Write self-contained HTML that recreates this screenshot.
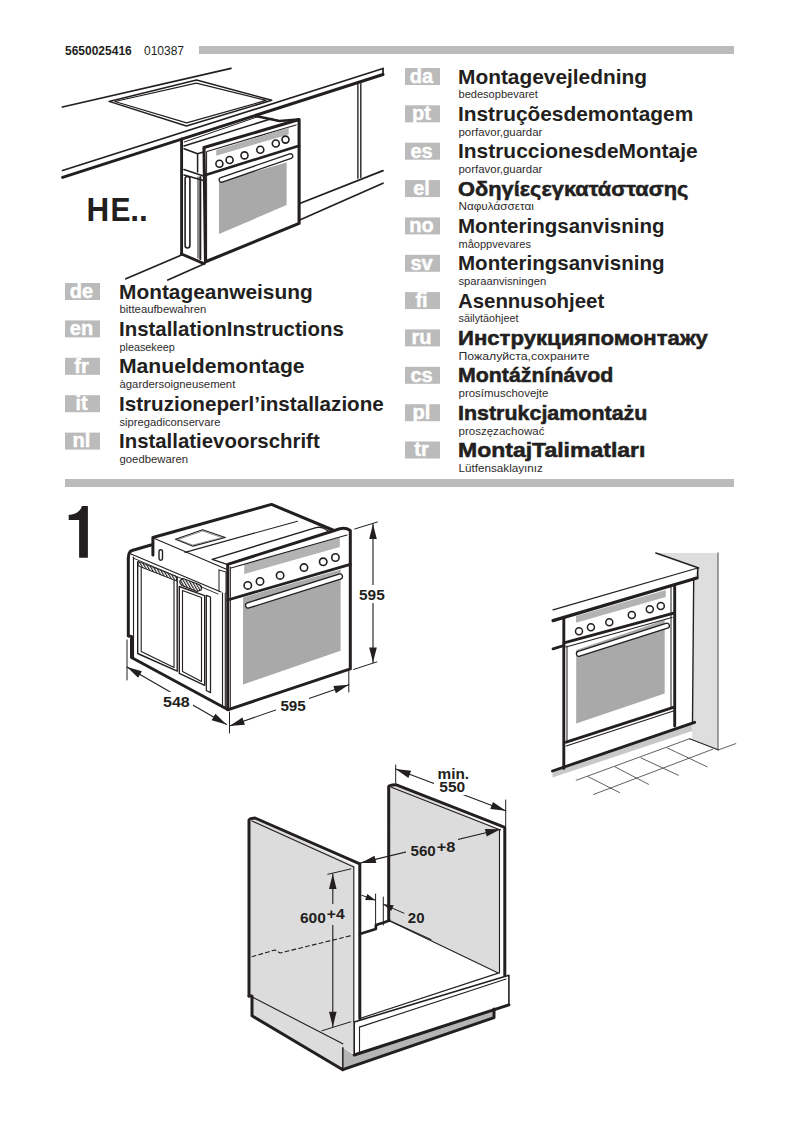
<!DOCTYPE html>
<html><head><meta charset="utf-8">
<style>
html,body{margin:0;padding:0;background:#fff;width:802px;height:1134px;overflow:hidden}
svg{position:absolute;left:0;top:0;display:block}
text{font-family:"Liberation Sans",sans-serif;fill:#231f20}
.t{font-size:21px;font-weight:bold}
.s{font-size:11.6px;fill:#2e2b2c}
.lb{font-size:20px;font-weight:bold;fill:#fff;stroke:#fff;stroke-width:0.45px;text-anchor:middle}
.d{font-size:15.3px;font-weight:bold}
</style></head><body>
<svg width="802" height="1134" viewBox="0 0 802 1134">
<!-- header -->
<text x="65" y="54.5" style="font-size:12px;font-weight:bold">5650025416</text>
<text x="144" y="54.5" style="font-size:12px">010387</text>
<rect x="199" y="46" width="535" height="8" fill="#bbbbbb"/>
<rect x="65" y="479" width="669" height="8" fill="#bbbbbb"/>
<text x="86.4" y="220.7" style="font-size:34px;font-weight:bold" textLength="22.7" lengthAdjust="spacingAndGlyphs">H</text>
<text x="110.6" y="220.7" style="font-size:34px;font-weight:bold" textLength="20.0" lengthAdjust="spacingAndGlyphs">E</text>
<text x="130.2" y="220.7" style="font-size:34px;font-weight:bold" textLength="17.6" lengthAdjust="spacingAndGlyphs">..</text>
<path d="M81.9,506 L87.9,506 L87.9,557.7 L79.1,557.7 L79.1,520.1 L68.7,520.1 L68.7,514.8 C75,514.8 80.5,511.5 81.9,506 Z" fill="#231f20"/>
<rect x="65" y="283.0" width="35" height="17" fill="#bbbbbb"/>
<text class="lb" x="81.5" y="297.8">de</text>
<text class="t" x="119" y="298.5" textLength="193.7" lengthAdjust="spacingAndGlyphs">Montageanweisung</text>
<text class="s" x="119.5" y="313.3" textLength="86.8" lengthAdjust="spacingAndGlyphs">bitteaufbewahren</text>
<rect x="65" y="320.4" width="35" height="17" fill="#bbbbbb"/>
<text class="lb" x="81.5" y="335.2">en</text>
<text class="t" x="119" y="335.9" textLength="224.8" lengthAdjust="spacingAndGlyphs">InstallationInstructions</text>
<text class="s" x="119.5" y="350.7" textLength="55.2" lengthAdjust="spacingAndGlyphs">pleasekeep</text>
<rect x="65" y="357.8" width="35" height="17" fill="#bbbbbb"/>
<text class="lb" x="81.5" y="372.6">fr</text>
<text class="t" x="119" y="373.3" textLength="185.6" lengthAdjust="spacingAndGlyphs">Manueldemontage</text>
<text class="s" x="119.5" y="388.1" textLength="115.8" lengthAdjust="spacingAndGlyphs">àgardersoigneusement</text>
<rect x="65" y="395.2" width="35" height="17" fill="#bbbbbb"/>
<text class="lb" x="81.5" y="410.0">it</text>
<text class="t" x="119" y="410.7" textLength="264.8" lengthAdjust="spacingAndGlyphs">Istruzioneperl’installazione</text>
<text class="s" x="119.5" y="425.5" textLength="100.9" lengthAdjust="spacingAndGlyphs">sipregadiconservare</text>
<rect x="65" y="432.6" width="35" height="17" fill="#bbbbbb"/>
<text class="lb" x="81.5" y="447.4">nl</text>
<text class="t" x="119" y="448.1" textLength="200.7" lengthAdjust="spacingAndGlyphs">Installatievoorschrift</text>
<text class="s" x="119.5" y="462.9" textLength="68.6" lengthAdjust="spacingAndGlyphs">goedbewaren</text>
<rect x="405" y="68.0" width="35" height="17" fill="#bbbbbb"/>
<text class="lb" x="421.5" y="82.8">da</text>
<text class="t" x="458" y="83.5" textLength="189.0" lengthAdjust="spacingAndGlyphs">Montagevejledning</text>
<text class="s" x="458.5" y="98.3" textLength="79.3" lengthAdjust="spacingAndGlyphs">bedesopbevaret</text>
<rect x="405" y="105.3" width="35" height="17" fill="#bbbbbb"/>
<text class="lb" x="421.5" y="120.2">pt</text>
<text class="t" x="458" y="120.8" textLength="235.2" lengthAdjust="spacingAndGlyphs">Instruçõesdemontagem</text>
<text class="s" x="458.5" y="135.6" textLength="83.9" lengthAdjust="spacingAndGlyphs">porfavor,guardar</text>
<rect x="405" y="142.7" width="35" height="17" fill="#bbbbbb"/>
<text class="lb" x="421.5" y="157.5">es</text>
<text class="t" x="458" y="158.2" textLength="239.6" lengthAdjust="spacingAndGlyphs">InstruccionesdeMontaje</text>
<text class="s" x="458.5" y="173.0" textLength="83.9" lengthAdjust="spacingAndGlyphs">porfavor,guardar</text>
<rect x="405" y="180.1" width="35" height="17" fill="#bbbbbb"/>
<text class="lb" x="421.5" y="194.9">el</text>
<text class="t" x="458" y="195.6" textLength="230.3" lengthAdjust="spacingAndGlyphs" style="stroke:#231f20;stroke-width:0.55px">Οδηγίεςεγκατάστασης</text>
<text class="s" x="458.5" y="210.4" textLength="75.3" lengthAdjust="spacingAndGlyphs">Ναφυλάσσεται</text>
<rect x="405" y="217.4" width="35" height="17" fill="#bbbbbb"/>
<text class="lb" x="421.5" y="232.2">no</text>
<text class="t" x="458" y="232.9" textLength="206.5" lengthAdjust="spacingAndGlyphs">Monteringsanvisning</text>
<text class="s" x="458.5" y="247.7" textLength="72.4" lengthAdjust="spacingAndGlyphs">måoppvevares</text>
<rect x="405" y="254.8" width="35" height="17" fill="#bbbbbb"/>
<text class="lb" x="421.5" y="269.5">sv</text>
<text class="t" x="458" y="270.2" textLength="206.5" lengthAdjust="spacingAndGlyphs">Monteringsanvisning</text>
<text class="s" x="458.5" y="285.0" textLength="87.6" lengthAdjust="spacingAndGlyphs">sparaanvisningen</text>
<rect x="405" y="292.1" width="35" height="17" fill="#bbbbbb"/>
<text class="lb" x="421.5" y="306.9">fi</text>
<text class="t" x="458" y="307.6" textLength="146.2" lengthAdjust="spacingAndGlyphs">Asennusohjeet</text>
<text class="s" x="458.5" y="322.4" textLength="59.9" lengthAdjust="spacingAndGlyphs">säilytäohjeet</text>
<rect x="405" y="329.4" width="35" height="17" fill="#bbbbbb"/>
<text class="lb" x="421.5" y="344.2">ru</text>
<text class="t" x="458" y="344.9" textLength="249.9" lengthAdjust="spacingAndGlyphs" style="stroke:#231f20;stroke-width:0.55px">Инструкцияпомонтажу</text>
<text class="s" x="458.5" y="359.7" textLength="131.0" lengthAdjust="spacingAndGlyphs">Пожалуйста,сохраните</text>
<rect x="405" y="366.8" width="35" height="17" fill="#bbbbbb"/>
<text class="lb" x="421.5" y="381.6">cs</text>
<text class="t" x="458" y="382.3" textLength="155.3" lengthAdjust="spacingAndGlyphs" style="stroke:#231f20;stroke-width:0.55px">Montážnínávod</text>
<text class="s" x="458.5" y="397.1" textLength="89.9" lengthAdjust="spacingAndGlyphs">prosímuschovejte</text>
<rect x="405" y="404.2" width="35" height="17" fill="#bbbbbb"/>
<text class="lb" x="421.5" y="419.0">pl</text>
<text class="t" x="458" y="419.7" textLength="189.4" lengthAdjust="spacingAndGlyphs" style="stroke:#231f20;stroke-width:0.55px">Instrukcjamontażu</text>
<text class="s" x="458.5" y="434.5" textLength="85.9" lengthAdjust="spacingAndGlyphs">proszęzachować</text>
<rect x="405" y="441.5" width="35" height="17" fill="#bbbbbb"/>
<text class="lb" x="421.5" y="456.3">tr</text>
<text class="t" x="458" y="457.0" textLength="187.4" lengthAdjust="spacingAndGlyphs" style="stroke:#231f20;stroke-width:0.55px">MontajTalimatları</text>
<text class="s" x="458.5" y="471.8" textLength="84.4" lengthAdjust="spacingAndGlyphs">Lütfensaklayınız</text><!-- drawing 1: kitchen -->
<g fill="none" stroke="#231f20" stroke-linecap="round" stroke-linejoin="round">
  <!-- countertop -->
  <line x1="62.4" y1="107" x2="231" y2="68.3" stroke-width="1.75"/>
  <line x1="62.6" y1="170.5" x2="383" y2="68.5" stroke-width="1.75"/>
  <line x1="62.6" y1="177.4" x2="383" y2="74.5" stroke-width="3.00"/>
  <line x1="383" y1="68.5" x2="383" y2="75" stroke-width="1.75"/>
  <!-- hob -->
  <path d="M109,101.4 L196.5,80 L271.7,100.3 L186.4,126 Z" stroke-width="1.5"/>
  <path d="M114.8,101.5 L196.3,83.2 L266.2,100.4 L186.6,122.9 Z" stroke-width="1.2"/>
  <!-- cabinet lines -->
  <line x1="181.6" y1="139" x2="181.6" y2="254.5" stroke-width="2.9"/>
  <line x1="357.9" y1="84.5" x2="357.9" y2="178.3" stroke-width="1.38"/>
  <line x1="360.8" y1="83.6" x2="360.8" y2="177.4" stroke-width="1.38"/>
  <line x1="299.7" y1="203.5" x2="383" y2="170.6" stroke-width="1.75"/>
  <line x1="299.7" y1="220" x2="383" y2="183.2" stroke-width="1.75"/>
  <line x1="125.9" y1="278.8" x2="182.2" y2="254.8" stroke-width="1.75"/>
  <line x1="167.8" y1="280" x2="205" y2="263.5" stroke-width="1.75"/>
  <!-- oven body side -->
  <line x1="181.5" y1="254" x2="204" y2="263.6" stroke-width="2.8"/>
  <path d="M184,148.7 L197.6,153.8 L203.5,152 M184,146 L272,118.5 M197.6,153.8 L197.6,172 M184,169.5 L203.5,176 M184,175 L203.5,180.5" stroke-width="1.5"/>
  <line x1="198" y1="177" x2="198" y2="258" stroke-width="1.0"/>
  <line x1="200.3" y1="177" x2="200.3" y2="259" stroke-width="2.0"/>
  <line x1="206.6" y1="152" x2="206.6" y2="261" stroke-width="1.0"/>
  <rect x="185.1" y="176.5" width="4.8" height="71.5" rx="2.4" stroke-width="1.6"/>
  <!-- oven front -->
  <path d="M255.8,116 L279.4,121 L298,119.5" stroke-width="2.4"/>
  <line x1="184.3" y1="142" x2="257.5" y2="116.8" stroke-width="1.0"/>
  <path d="M204,147.5 L299.1,119.6 L299.1,223.4 L205.5,261.8 Z" stroke-width="3.1"/>
  <line x1="204" y1="175.4" x2="299.1" y2="145.8" stroke-width="2.60"/>
  <line x1="207" y1="151.5" x2="296" y2="125" stroke-width="1.25"/>
</g>
<polygon points="216.2,150.1 288.7,127.5 288.7,134.4 216.2,155.7" fill="#b3b3b3"/>
<polygon points="219,182 286.6,162.4 286.6,205.1 219,233.9" fill="#a9a9a9"/>
<g fill="#fff" stroke="#231f20" stroke-width="1.62">
  <circle cx="219.4" cy="163.8" r="3.5"/><circle cx="229.6" cy="160" r="3.5"/><circle cx="244.5" cy="155.4" r="3.5"/>
  <circle cx="260.3" cy="149.8" r="3.5"/><circle cx="275.8" cy="143.5" r="3.5"/><circle cx="285.5" cy="139.6" r="3.5"/>
</g>
<line x1="221.5" y1="179.8" x2="290.4" y2="156.2" stroke="#231f20" stroke-width="6" stroke-linecap="round"/>
<line x1="221.5" y1="179.8" x2="290.4" y2="156.2" stroke="#fff" stroke-width="3.4" stroke-linecap="round"/>
<defs><pattern id="hatch" width="2.4" height="2.4" patternUnits="userSpaceOnUse" patternTransform="rotate(-30)"><rect width="2.4" height="2.4" fill="#fff"/><rect width="1.1" height="2.4" fill="#231f20"/></pattern></defs>
<!-- drawing 2: oven dims -->
<polygon points="243,597.5 340.6,569.5 340.6,650.8 243,684.5" fill="#a9a9a9"/>
<polygon points="244.2,564.5 339.8,537.5 339.8,547 244.2,574" fill="#b3b3b3"/>
<g fill="none" stroke="#231f20" stroke-linecap="round" stroke-linejoin="round">
  <!-- top -->
  <path d="M152.9,555 L152.9,537.5 L271.5,504.4 L334,530.5" stroke-width="3.00"/>
  <path d="M128.3,558 Q128.5,551.5 132,550.5 L151,545" stroke-width="3.00"/>
  <path d="M128.3,558 L128.3,636 L131.5,636.5 L131.5,657.5 L227.7,709.5" stroke-width="3.00"/>
  <line x1="154.5" y1="538.4" x2="226.5" y2="569.3" stroke-width="1.12"/>
  <line x1="185" y1="552.4" x2="297.4" y2="521.2" stroke-width="1.12"/>
  <path d="M212.2,559.3 L316,527.7 Q320,526.5 324,528.5 L331,532.5 M212.2,559.3 L227,564.4" stroke-width="1.38"/>
  <path d="M175.5,539.3 L202.6,529.7 L225.3,537.5 L193,546.2 Z" stroke-width="1.2"/>
  <path d="M178.5,539.4 L202.6,531 L222,537.6 L193.2,545 Z" stroke-width="0.7" stroke="#666"/>
  <rect x="159" y="549.7" width="3.5" height="10.5" rx="1.7" stroke-width="1.38"/>
  <line x1="131" y1="554" x2="221" y2="592" stroke-width="1.12"/>
  <line x1="133" y1="558" x2="218" y2="594" stroke-width="0.9"/>
    <!-- side body -->
  <line x1="222.5" y1="593" x2="222.5" y2="705" stroke-width="1.12"/>
  <line x1="225.3" y1="593" x2="225.3" y2="707" stroke-width="1.12"/>
  <path d="M219,570 L226,572 L226,593 M219,570 L219,591" stroke-width="1.00"/>
  <!-- windows -->
  <path d="M137.7,561.9 L177.2,577.4 L177.2,671.2 L137.7,653.5 Z" stroke-width="1.38"/>
  <path d="M141.2,566.8 L174,579.5 L174,667.5 L141.2,651.5 Z" stroke-width="1.12"/>
  <path d="M133.5,557 L133.5,658" stroke-width="1.12"/>
  <path d="M179.3,586.5 L204.7,595.7 L204.7,685.3 L179.3,673.3 Z" stroke-width="1.38"/>
  <path d="M182.5,590.5 L201.5,597.5 L201.5,681.5 L182.5,671.5 Z" stroke-width="1.12"/>
  <path d="M206.3,595.3 L210.5,597 L210.5,692.6 L206.3,690.5 Z" stroke-width="1.25"/>
  <path d="M138.5,561.5 L176.5,576.5 L176.5,581 L138.5,566 Z" fill="url(#hatch)" stroke-width="0.9"/>
  <path d="M183,578.5 L199,584.5 Q203,586.5 201,590 L197,591.5 L182,585.5 Q179,583 180,580.5 Z" fill="url(#hatch)" stroke-width="1.1"/>
  <!-- front panel -->
  <path d="M227.7,564.4 L336,530 Q344.5,526.5 350.3,530.5 L350.3,668.9 L227.7,709.8 Z" stroke-width="3.00"/>
  <line x1="230.3" y1="567" x2="230.3" y2="708" stroke-width="1.12"/>
  <line x1="231" y1="568" x2="347" y2="535" stroke-width="1.12"/>
  <line x1="227.7" y1="600" x2="350.3" y2="564.4" stroke-width="2.80"/>
  <!-- dims -->
  <path d="M127,640 L127,680 M229.5,712 L229.5,733 M348.8,671 L348.8,692 M354.7,529 L377.4,522 M353.5,669.5 L376.8,661.9" stroke-width="1.00"/>
  <path d="M127,667 L226.5,724.5 M229.5,726 L348.8,684.7 M373,524 L373,662.5" stroke-width="1.12"/>
</g>
<g fill="#fff" stroke="#231f20" stroke-width="1.62">
  <circle cx="247.8" cy="585.4" r="3.7"/><circle cx="260" cy="581.4" r="3.7"/><circle cx="280.1" cy="575.4" r="3.7"/>
  <circle cx="304" cy="567.6" r="3.7"/><circle cx="323.2" cy="561.8" r="3.7"/><circle cx="335.4" cy="557.5" r="3.7"/>
</g>
<line x1="248.2" y1="605.4" x2="339.8" y2="576.6" stroke="#231f20" stroke-width="6.6" stroke-linecap="round"/>
<line x1="248.2" y1="605.4" x2="339.8" y2="576.6" stroke="#fff" stroke-width="4.0" stroke-linecap="round"/>
<g fill="#231f20">
  <polygon points="373.0,524.0 376.8,539.0 369.2,539.0"/>
  <polygon points="373.0,662.5 369.2,647.5 376.8,647.5"/>
  <polygon points="127.0,667.0 141.9,671.2 138.1,677.8"/>
  <polygon points="226.5,724.5 211.6,720.3 215.4,713.7"/>
  <polygon points="229.5,726.0 242.4,717.5 244.9,724.7"/>
  <polygon points="348.8,684.7 335.9,693.2 333.4,686.0"/>
</g>
<rect x="356" y="585" width="32" height="18" fill="#fff"/>
<rect x="160" y="692" width="33" height="18" fill="#fff"/>
<rect x="276" y="697" width="33" height="18" fill="#fff"/>
<text class="d" x="359.0" y="599.7" textLength="25.7" lengthAdjust="spacingAndGlyphs">595</text>
<text class="d" x="163.0" y="707" textLength="26.8" lengthAdjust="spacingAndGlyphs">548</text>
<text class="d" x="280.4" y="711.2" textLength="25.4" lengthAdjust="spacingAndGlyphs">595</text>
<!-- drawing 3: built-in -->
<polygon points="655.8,553 718,553 718,749.7 692,738.5 693.7,578 698.7,568" fill="#dedede"/>
<polygon points="552.5,771 692,722 692,731 552.5,777.5" fill="#c8c8c8"/>
<polygon points="576.2,650 664.7,620 664.7,693.6 576.2,723.5" fill="#a9a9a9"/>
<polygon points="576,615.9 665.8,590 665.8,597 576,622.8" fill="#b3b3b3"/>
<g fill="none" stroke="#231f20" stroke-linecap="round" stroke-linejoin="round">
  <path d="M655.8,553 L698.7,568" stroke-width="1.38"/>
  <path d="M718,553 L718,749.7" stroke="#888" stroke-width="1.6"/>
  <path d="M718,749.7 L689.7,738.7" stroke-width="1.2"/>
  <line x1="553" y1="609.9" x2="697.7" y2="568" stroke-width="1.2"/>
  <line x1="553" y1="620.6" x2="697" y2="578" stroke-width="3.2"/>
  <line x1="697.7" y1="568" x2="697.7" y2="578" stroke-width="1.62"/>
  <line x1="674.7" y1="587" x2="674.7" y2="726" stroke-width="2.9"/>
  <line x1="671" y1="585" x2="671" y2="708" stroke-width="1.00"/>
  <line x1="693.7" y1="578" x2="692.5" y2="722" stroke-width="1.38"/>
  <line x1="563.8" y1="617.5" x2="563.8" y2="768.4" stroke-width="2.90"/>
  <line x1="567" y1="646" x2="567" y2="742" stroke-width="1.00"/>
  <line x1="553" y1="648.8" x2="564" y2="645.5" stroke-width="2.80"/>
  <line x1="564" y1="642.8" x2="674.7" y2="612.9" stroke-width="2.80"/>
  <line x1="566" y1="647" x2="672" y2="617.5" stroke-width="1.25"/>
  <line x1="566.2" y1="742.2" x2="673.4" y2="707.3" stroke-width="2.80"/>
  <line x1="566.2" y1="746" x2="673.4" y2="711" stroke-width="1.12"/>
  <line x1="552.5" y1="771" x2="694.6" y2="722.3" stroke-width="2.90"/>
  <!-- floor -->
  <g stroke="#444" stroke-width="0.85">
    <line x1="576.2" y1="780.3" x2="689.7" y2="738.7"/>
    <line x1="593.5" y1="794.5" x2="712.8" y2="749.2"/>
    <line x1="718.4" y1="749.9" x2="735.8" y2="743.6"/>
    <line x1="588" y1="776.6" x2="619.6" y2="792.6"/>
    <line x1="614.9" y1="766.8" x2="648.5" y2="784.3"/>
    <line x1="641" y1="757.9" x2="678.5" y2="775.3"/>
    <line x1="667.2" y1="747.9" x2="707.1" y2="766.8"/>
  </g>
</g>
<g fill="#fff" stroke="#231f20" stroke-width="1.50">
  <circle cx="579" cy="631.2" r="3.5"/><circle cx="590.9" cy="627.2" r="3.5"/><circle cx="609.3" cy="622.2" r="3.5"/>
  <circle cx="631.8" cy="614.9" r="3.5"/><circle cx="649.8" cy="609.3" r="3.5"/><circle cx="660.8" cy="605.9" r="3.5"/>
</g>
<line x1="579" y1="653.8" x2="666.8" y2="625.8" stroke="#231f20" stroke-width="6.4" stroke-linecap="round"/>
<line x1="579" y1="653.8" x2="666.8" y2="625.8" stroke="#fff" stroke-width="3.8" stroke-linecap="round"/>
<!-- drawing 4: cabinet -->
<polygon points="249,819 255,818 353.8,865 353.8,1053.8 342.8,1047.8 342.8,1069.7 252,1015.8 252,996 249,996" fill="#dcdcdc"/>
<polygon points="388.7,785.5 395.7,784.7 499.5,829 499.5,973.1 390.3,921.2 388.7,920.5" fill="#dcdcdc"/>
<polygon points="342.8,1047.8 354.2,1055 494,1009.5 494,1017.6 342.8,1069.7" fill="#b5b5b5"/>
<g fill="none" stroke="#231f20" stroke-linecap="round" stroke-linejoin="round">
  <!-- left panel -->
  <path d="M249,996 L249,820 Q249.5,818.5 255,818 L359.8,863.9 L359.8,1018.6" stroke-width="3.00"/>
  <path d="M249,996 L252,996 L252,1015.8 L342.8,1069.7" stroke-width="3.00"/>
  <line x1="252" y1="821" x2="353.8" y2="866.9" stroke-width="1.12"/>
  <line x1="353.8" y1="866.9" x2="353.8" y2="1022" stroke-width="1.12"/>
  <line x1="252" y1="996.9" x2="342.8" y2="1043.8" stroke-width="1.12"/>
  <path d="M342.8,1047.8 L342.8,1069.7" stroke-width="1.50"/>
  <!-- right panel -->
  <path d="M388.7,920.5 L388.7,786.5 Q389,785 395.7,784.7 L504.8,827.4 L504.8,975.2" stroke-width="3.00"/>
  <line x1="391.3" y1="787.3" x2="500.4" y2="830" stroke-width="1.12"/>
  <line x1="499.5" y1="830" x2="499.5" y2="973" stroke-width="1.12"/>
  <line x1="390.3" y1="921.2" x2="498.3" y2="973.1" stroke-width="1.12"/>
  <path d="M359.8,934 L375.8,929 L376,925 L384,922.5 L389.3,920.5" stroke-width="2.80"/>
  <line x1="389.3" y1="920.5" x2="430.8" y2="939.6" stroke-width="1.12"/>
  <!-- base -->
  <path d="M354.2,1022 L508.9,975.2 L508.9,1004.9 L354.2,1055 Z" stroke-width="1.6"/>
  <path d="M508.9,1004.9 L354.2,1055" stroke-width="3.0"/>
  <line x1="359.5" y1="1018.6" x2="498.3" y2="973.1" stroke-width="1.12"/>
  <line x1="359.5" y1="1027.1" x2="506" y2="979" stroke-width="1.12"/>
  <line x1="359.5" y1="1027.1" x2="359.5" y2="1053" stroke-width="1.12"/>
  <path d="M342.8,1069.7 L494,1017.6 L494,1009" stroke-width="3.00"/>
  <!-- dashed -->
  <path d="M252,956.7 L275,950 L280,953 L350.8,935.7" stroke-width="1.12" stroke-dasharray="4,3"/>
  <!-- dims -->
  <path d="M395.7,765 L395.7,783 M505.7,800 L505.7,826" stroke-width="1.00"/>
  <path d="M395.7,769 L505.7,810.8" stroke-width="1.12"/>
  <path d="M360.8,862.9 L500.4,829.2" stroke-width="1.12"/>
  <path d="M327.8,874.3 L350.8,868.9 M321.8,1030.8 L350.8,1021.8" stroke-width="1.00"/>
  <path d="M332.8,873.9 L332.8,1026.8" stroke-width="1.12"/>
  <path d="M375.6,894 L375.6,925 M383.3,897 L383.3,925" stroke-width="1.00"/>
  <path d="M361.8,895.3 L375.6,900.3 M383.3,904.2 L403.9,913.2" stroke-width="1.00"/>
</g>
<g fill="#231f20">
  <polygon points="395.7,769.0 411.1,770.8 408.4,777.9"/>
  <polygon points="505.7,810.8 490.3,809.0 493.0,801.9"/>
  <polygon points="500.4,829.2 486.7,836.4 484.9,829.0"/>
  <polygon points="360.8,862.9 374.5,855.7 376.3,863.1"/>
  <polygon points="332.8,873.9 336.6,888.9 329.0,888.9"/>
  <polygon points="332.8,1026.8 329.0,1011.8 336.6,1011.8"/>
  <polygon points="375.6,900.3 365.1,899.9 367.3,893.9"/>
  <polygon points="383.3,904.2 393.7,905.3 391.2,911.1"/>
</g>
<rect x="434" y="767" width="38" height="28" fill="#fff"/>
<rect x="406" y="838" width="52" height="21" fill="#dcdcdc"/>
<rect x="297" y="904" width="50" height="21" fill="#dcdcdc"/>
<text class="d" x="437.6" y="778.6" textLength="31.5" lengthAdjust="spacingAndGlyphs">min.</text>
<text class="d" x="439.3" y="792" textLength="25.9" lengthAdjust="spacingAndGlyphs">550</text>
<text class="d" x="410.5" y="856.2" textLength="25.3" lengthAdjust="spacingAndGlyphs">560</text>
<text class="d" x="436.7" y="851.9" textLength="18.8" lengthAdjust="spacingAndGlyphs">+8</text>
<text class="d" x="299.9" y="922.8" textLength="25.9" lengthAdjust="spacingAndGlyphs">600</text>
<text class="d" x="326.8" y="918.8" textLength="17.9" lengthAdjust="spacingAndGlyphs">+4</text>
<text class="d" x="407.8" y="922.7" textLength="16.7" lengthAdjust="spacingAndGlyphs">20</text>
</svg></body></html>
